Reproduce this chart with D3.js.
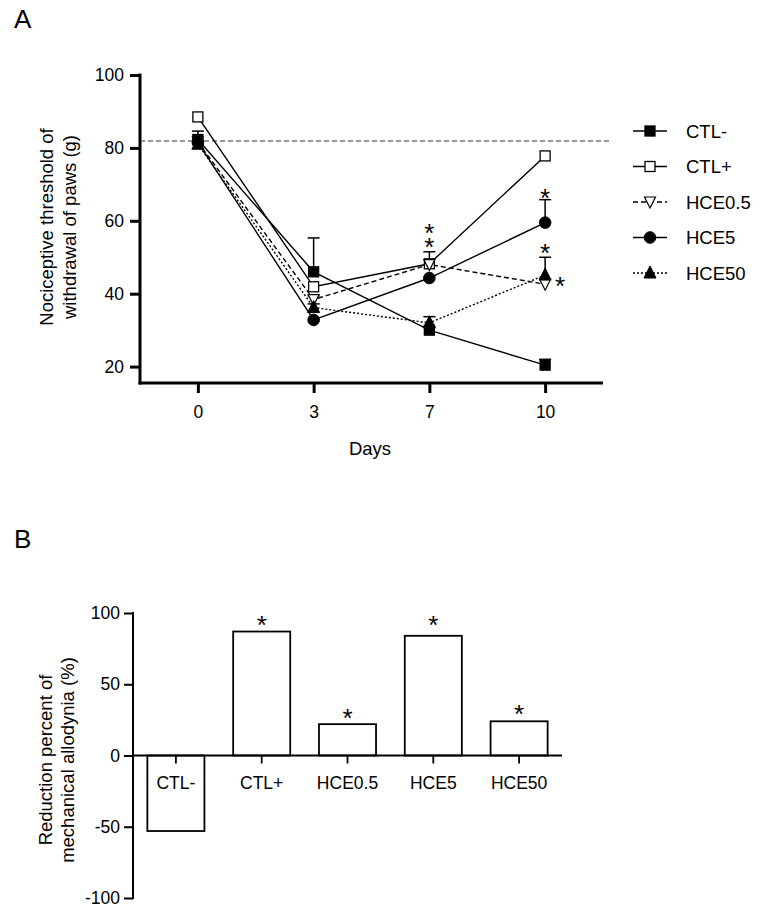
<!DOCTYPE html>
<html><head><meta charset="utf-8">
<script src="https://cdn.jsdelivr.net/npm/d3@7"></script>
<style>
html,body{margin:0;padding:0;background:#fff;}
text{font-family:"Liberation Sans",Arial,Helvetica,sans-serif;fill:#000;}
</style></head>
<body>
<script>
// ---------- Data: panel A ----------
const days = ["0","3","7","10"];
const seriesNames = ["CTL-","CTL+","HCE0.5","HCE5","HCE50"];
const ctlMinus  = [82.3, 46.0, 30.0, 20.4];
const ctlPlus   = [88.5, 41.9, 48.2, 77.8];
const hce05     = [81.6, 38.4, 48.0, 42.6];
const hce5      = [81.5, 32.8, 44.3, 59.5];
const hce50     = [81.0, 36.2, 32.0, 45.1];
const errCtlMinus = [2.3, 9.3, 1.0, 1.6];
const errCtlPlus  = [0, 0, 3.3, 0];
const errHce05    = [0, 1.0, 0, 0];
const errHce5     = [0, 0, 0, 6.3];
const errHce50    = [0, 1.0, 1.7, 4.9];
const baselineValue = 81.9;
const yTicksA = [20, 40, 60, 80, 100];
// significance marks: each entry is a stack of asterisks (values, top to bottom)
const starsA = [ {day:"7", values:[58.3, 54.5]}, {day:"10", values:[67.9]}, {day:"10", values:[52.8]}, {day:"10", values:[43.8], side:true} ];

// ---------- Data: panel B ----------
const groups = ["CTL-","CTL+","HCE0.5","HCE5","HCE50"];
const reduction = [-53, 87, 22, 84, 24];
const starValsB = [null, 95.8, 30.5, 95.8, 33.3];
const yTicksB = [-100, -50, 0, 50, 100];

const W = 767, H = 917;
const STAR_SIZE = 26, STAR_SHIFT = 15;
const fmt = d => String(d);

const svg = d3.select("body").append("svg").attr("width", W).attr("height", H);
svg.append("rect").attr("width", W).attr("height", H).attr("fill", "#fff");

// ================= Panel A =================
svg.append("text").attr("x", 14).attr("y", 28).attr("font-size", 26).text("A");

const xA = d3.scalePoint().domain(days).range([140, 603]).padding(0.5);
const yA = d3.scaleLinear().domain([15.5, 100]).range([383, 75]);

const gA = svg.append("g");
const yAxisA = d3.axisLeft(yA).tickValues(yTicksA).tickSize(10).tickPadding(6).tickFormat(fmt);
const ya = gA.append("g").attr("transform", "translate(140,0)").call(yAxisA);
const xAxisA = d3.axisBottom(xA).tickSize(10).tickPadding(13);
const xa = gA.append("g").attr("transform", "translate(0,383)").call(xAxisA);
[ya, xa].forEach(a => {
  a.select(".domain").remove();
  a.selectAll(".tick line").attr("stroke", "#000").attr("stroke-width", 3);
  a.selectAll(".tick text").attr("font-size", 17.5).attr("fill", "#000").style("font-family", '"Liberation Sans",Arial,sans-serif');
});
gA.append("line").attr("x1", 140).attr("x2", 140).attr("y1", yA(100) - 1.5).attr("y2", 384.5).attr("stroke", "#000").attr("stroke-width", 3);
gA.append("line").attr("x1", 138.5).attr("x2", 603).attr("y1", 383).attr("y2", 383).attr("stroke", "#000").attr("stroke-width", 3);

gA.append("text").attr("transform", "translate(53,227) rotate(-90)").attr("text-anchor", "middle").attr("font-size", 18.5).text("Nociceptive threshold of");
gA.append("text").attr("transform", "translate(76,227) rotate(-90)").attr("text-anchor", "middle").attr("font-size", 18.5).text("withdrawal of paws (g)");
gA.append("text").attr("x", 370).attr("y", 455).attr("text-anchor", "middle").attr("font-size", 18.5).text("Days");

gA.append("line").attr("x1", 140).attr("x2", 610).attr("y1", yA(baselineValue)).attr("y2", yA(baselineValue))
  .attr("stroke", "#333").attr("stroke-width", 1.1).attr("stroke-dasharray", "5,3");

const series = [
  {name:"CTL-",   vals:ctlMinus, err:errCtlMinus, dash:null,  marker:"square",  fill:"#000"},
  {name:"CTL+",   vals:ctlPlus,  err:errCtlPlus,  dash:null,  marker:"square",  fill:"#fff"},
  {name:"HCE0.5", vals:hce05,    err:errHce05,    dash:"5,3", marker:"tridown", fill:"#fff"},
  {name:"HCE5",   vals:hce5,     err:errHce5,     dash:null,  marker:"circle",  fill:"#000"},
  {name:"HCE50",  vals:hce50,    err:errHce50,    dash:"2,2", marker:"triup",   fill:"#000"}
];

function drawMarker(g, type, cx, cy, fill) {
  if (type === "square") {
    g.append("rect").attr("x", cx - 5).attr("y", cy - 5).attr("width", 10).attr("height", 10)
      .attr("fill", fill).attr("stroke", "#000").attr("stroke-width", 1.3);
  } else if (type === "circle") {
    g.append("circle").attr("cx", cx).attr("cy", cy).attr("r", 5.8).attr("fill", fill).attr("stroke", "#000").attr("stroke-width", 1);
  } else if (type === "triup") {
    g.append("path").attr("d", `M${cx},${cy-7}L${cx+6},${cy+5}L${cx-6},${cy+5}Z`).attr("fill", fill).attr("stroke", "#000").attr("stroke-width", 1);
  } else if (type === "tridown") {
    g.append("path").attr("d", `M${cx},${cy+6}L${cx+5.5},${cy-5}L${cx-5.5},${cy-5}Z`).attr("fill", fill).attr("stroke", "#000").attr("stroke-width", 1.2);
  }
}

const line = d3.line().x((d, i) => xA(days[i])).y(d => yA(d));
series.forEach(s => {
  gA.append("path").attr("d", line(s.vals)).attr("fill", "none").attr("stroke", "#000").attr("stroke-width", 1.4)
    .attr("stroke-dasharray", s.dash);
});
series.forEach(s => {
  s.vals.forEach((v, i) => {
    if (!s.err[i]) return;
    const x = xA(days[i]), y0 = yA(v), y1 = yA(v + s.err[i]);
    gA.append("line").attr("x1", x).attr("x2", x).attr("y1", y0).attr("y2", y1).attr("stroke", "#000").attr("stroke-width", 1.5);
    gA.append("line").attr("x1", x - 6).attr("x2", x + 6).attr("y1", y1).attr("y2", y1).attr("stroke", "#000").attr("stroke-width", 1.5);
  });
});
series.forEach(s => {
  s.vals.forEach((v, i) => drawMarker(gA, s.marker, xA(days[i]), yA(v), s.fill));
});
starsA.forEach(st => {
  const x = xA(st.day) + (st.side ? 15 : 0);
  const t = gA.append("text").attr("text-anchor", "middle").attr("font-size", STAR_SIZE);
  st.values.forEach(v => {
    t.append("tspan").attr("x", x).attr("y", yA(v) + STAR_SHIFT).text("*");
  });
});

const legend = svg.append("g");
series.forEach((s, i) => {
  const ly = 131 + i * 35.5;
  legend.append("line").attr("x1", 633).attr("x2", 667).attr("y1", ly).attr("y2", ly)
    .attr("stroke", "#000").attr("stroke-width", 1.4).attr("stroke-dasharray", s.dash);
  drawMarker(legend, s.marker, 650, ly, s.fill);
  legend.append("text").attr("x", 686).attr("y", ly + 6.5).attr("font-size", 18.5).text(seriesNames[i]);
});

// ================= Panel B =================
svg.append("text").attr("x", 14).attr("y", 548).attr("font-size", 26).text("B");

const xB = d3.scaleBand().domain(groups).range([133, 562]).paddingInner(0.335).paddingOuter(0.1675);
const yB = d3.scaleLinear().domain([-100, 100]).range([898, 613]);
const gB = svg.append("g");

gB.selectAll("rect.bar").data(reduction).enter().append("rect").attr("class", "bar")
  .attr("x", (d, i) => xB(groups[i])).attr("width", xB.bandwidth())
  .attr("y", d => yB(Math.max(0, d))).attr("height", d => Math.abs(yB(d) - yB(0)))
  .attr("fill", "#fff").attr("stroke", "#000").attr("stroke-width", 1.8);

const yAxisB = d3.axisLeft(yB).tickValues(yTicksB).tickSize(9).tickPadding(4).tickFormat(fmt);
const yb = gB.append("g").attr("transform", "translate(133,0)").call(yAxisB);
yb.select(".domain").remove();
yb.selectAll(".tick line").attr("stroke", "#000").attr("stroke-width", 2);
yb.selectAll(".tick text").attr("font-size", 17.5).attr("fill", "#000").style("font-family", '"Liberation Sans",Arial,sans-serif');
gB.append("line").attr("x1", 133).attr("x2", 133).attr("y1", yB(100) - 1).attr("y2", yB(-100) + 1).attr("stroke", "#000").attr("stroke-width", 2);
gB.append("line").attr("x1", 133).attr("x2", 562).attr("y1", yB(0)).attr("y2", yB(0)).attr("stroke", "#000").attr("stroke-width", 2);
groups.forEach((g, i) => {
  const cx = xB(g) + xB.bandwidth() / 2;
  gB.append("line").attr("x1", cx).attr("x2", cx).attr("y1", yB(0)).attr("y2", yB(0) + 8).attr("stroke", "#000").attr("stroke-width", 1.8);
  gB.append("text").attr("x", cx).attr("y", 789).attr("text-anchor", "middle").attr("font-size", 17.5).text(g);
  if (starValsB[i] != null) {
    gB.append("text").attr("x", cx).attr("y", yB(starValsB[i]) + STAR_SHIFT).attr("text-anchor", "middle").attr("font-size", STAR_SIZE).text("*");
  }
});
gB.append("text").attr("transform", "translate(52,760) rotate(-90)").attr("text-anchor", "middle").attr("font-size", 18.5).text("Reduction percent of");
gB.append("text").attr("transform", "translate(74,760) rotate(-90)").attr("text-anchor", "middle").attr("font-size", 18.5).text("mechanical allodynia (%)");
</script>
</body></html>
